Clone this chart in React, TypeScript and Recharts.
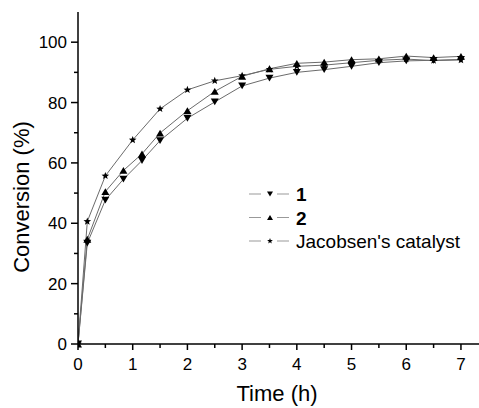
import React from 'react';
import { LineChart, Line, XAxis, YAxis } from 'recharts';

// 时间 (h) 与转化率 (%)
const time1 = [0, 0.17, 0.5, 0.83, 1.17, 1.5, 2, 2.5, 3, 3.5, 4, 4.5, 5, 5.5, 6, 6.5, 7];
const conv1 = [0, 33.4, 47.7, 54.6, 60.8, 67.4, 74.8, 80.2, 85.5, 88.1, 90.0, 90.9, 92.0, 93.2, 93.8, 94.0, 94.3];

const time2 = [0, 0.17, 0.5, 0.83, 1.17, 1.5, 2, 2.5, 3, 3.5, 4, 4.5, 5, 5.5, 6, 6.5, 7];
const conv2 = [0, 34.7, 50.5, 57.5, 63.0, 69.9, 77.3, 83.7, 88.7, 91.2, 93.0, 93.4, 94.2, 94.5, 95.4, 94.9, 95.3];

const time3 = [0, 0.17, 0.5, 1, 1.5, 2, 2.5, 3, 3.5, 4, 4.5, 5, 5.5, 6, 6.5, 7];
const conv3 = [0, 40.6, 55.7, 67.6, 77.9, 84.2, 87.2, 88.9, 91.0, 92.0, 92.4, 93.2, 94.0, 94.4, 93.9, 94.1];

const seriesNames = ['1', '2', "Jacobsen's catalyst"];
const xTicks = [0, 0.5, 1, 1.5, 2, 2.5, 3, 3.5, 4, 4.5, 5, 5.5, 6, 6.5, 7];
const yTicks = [0, 10, 20, 30, 40, 50, 60, 70, 80, 90, 100];

const toRows = (xs: number[], ys: number[]) => xs.map((x, i) => ({ x, y: ys[i] }));
const data1 = toRows(time1, conv1);
const data2 = toRows(time2, conv2);
const data3 = toRows(time3, conv3);

const FONT = '"Liberation Sans", Arial, sans-serif';
const LINE = '#6b6b6b';

type Shape = 'down' | 'up' | 'star';

const markerPath = (shape: Shape, cx: number, cy: number, s: number) => {
    if (shape === 'down') {
        return `M${cx - s},${cy - s * 0.85}L${cx + s},${cy - s * 0.85}L${cx},${cy + s * 0.85}Z`;
    }
    if (shape === 'up') {
        return `M${cx - s},${cy + s * 0.85}L${cx + s},${cy + s * 0.85}L${cx},${cy - s * 0.85}Z`;
    }
    // 五角星
    let d = '';
    for (let i = 0; i < 10; i++) {
        const r = i % 2 === 0 ? s : s * 0.42;
        const a = -Math.PI / 2 + (i * Math.PI) / 5;
        d += `${i === 0 ? 'M' : 'L'}${cx + r * Math.cos(a)},${cy + r * Math.sin(a)}`;
    }
    return d + 'Z';
};

const renderDot = (shape: Shape, size: number) => (props: any) => {
    const { cx, cy, index } = props;
    if (cx == null || cy == null) return <g key={`d-${index}`} />;
    return <path key={`d-${shape}-${index}`} d={markerPath(shape, cx, cy, size)} fill="#000" stroke="none" />;
};

const XTick = ({ x, y, payload }: any) => {
    const major = Number.isInteger(payload.value);
    return (
        <g>
            <line x1={x} y1={y} x2={x} y2={y + (major ? 6 : 4)} stroke="#000" strokeWidth={1.5} />
            {major && (
                <text x={x} y={y + 26} textAnchor="middle" fontSize={17} fontFamily={FONT} fill="#000">
                    {payload.value}
                </text>
            )}
        </g>
    );
};

const YTick = ({ x, y, payload }: any) => {
    const major = payload.value % 20 === 0;
    return (
        <g>
            <line x1={x} y1={y} x2={x - (major ? 7 : 4)} y2={y} stroke="#000" strokeWidth={1.5} />
            {major && (
                <text x={x - 11} y={y + 6} textAnchor="end" fontSize={17} fontFamily={FONT} fill="#000">
                    {payload.value}
                </text>
            )}
        </g>
    );
};

const shapes: Shape[] = ['down', 'up', 'star'];

export default function App() {
    return (
        <div style={{ position: 'absolute', left: 0, top: 0, width: 479, height: 408, background: '#fff' }}>
            <LineChart width={479} height={408} margin={{ top: 12, right: 0, bottom: 0, left: 0 }}>
                <XAxis
                    dataKey="x"
                    type="number"
                    domain={[0, 7.33]}
                    ticks={xTicks}
                    interval={0}
                    height={64}
                    tickSize={0}
                    tickMargin={0}
                    tickLine={false}
                    tick={<XTick />}
                    axisLine={{ stroke: '#000', strokeWidth: 1.5 }}
                    allowDataOverflow
                />
                <YAxis
                    dataKey="y"
                    type="number"
                    domain={[0, 110]}
                    ticks={yTicks}
                    interval={0}
                    width={78}
                    tickSize={0}
                    tickMargin={0}
                    tickLine={false}
                    tick={<YTick />}
                    axisLine={{ stroke: '#000', strokeWidth: 1.5 }}
                />
                <Line data={data1} dataKey="y" name={seriesNames[0]} stroke={LINE} strokeWidth={1}
                    dot={renderDot('down', 4)} activeDot={false} isAnimationActive={false} />
                <Line data={data2} dataKey="y" name={seriesNames[1]} stroke={LINE} strokeWidth={1}
                    dot={renderDot('up', 4)} activeDot={false} isAnimationActive={false} />
                <Line data={data3} dataKey="y" name={seriesNames[2]} stroke={LINE} strokeWidth={1}
                    dot={renderDot('star', 4)} activeDot={false} isAnimationActive={false} />

                {/* 图例 */}
                <g>
                    {seriesNames.map((name, i) => {
                        const cy = 194 + i * 23.5;
                        return (
                            <g key={name}>
                                <line x1={249} y1={cy} x2={261} y2={cy} stroke="#999" />
                                <line x1={277} y1={cy} x2={289} y2={cy} stroke="#999" />
                                <path d={markerPath(shapes[i], 270, cy, 3)} fill="#000" />
                                <text x={296} y={cy + 7} fontSize={19} fontFamily={FONT}
                                    fontWeight={i < 2 ? 'bold' : 'normal'} fill="#000">
                                    {name}
                                </text>
                            </g>
                        );
                    })}
                </g>

                {/* 坐标轴标题 */}
                <text x={277} y={401} textAnchor="middle" fontSize={22} fontFamily={FONT} fill="#000">
                    Time (h)
                </text>
                <text x={29} y={197} transform="rotate(-90 29 197)" textAnchor="middle" fontSize={22}
                    fontFamily={FONT} fill="#000">
                    Conversion (%)
                </text>
            </LineChart>
        </div>
    );
}
